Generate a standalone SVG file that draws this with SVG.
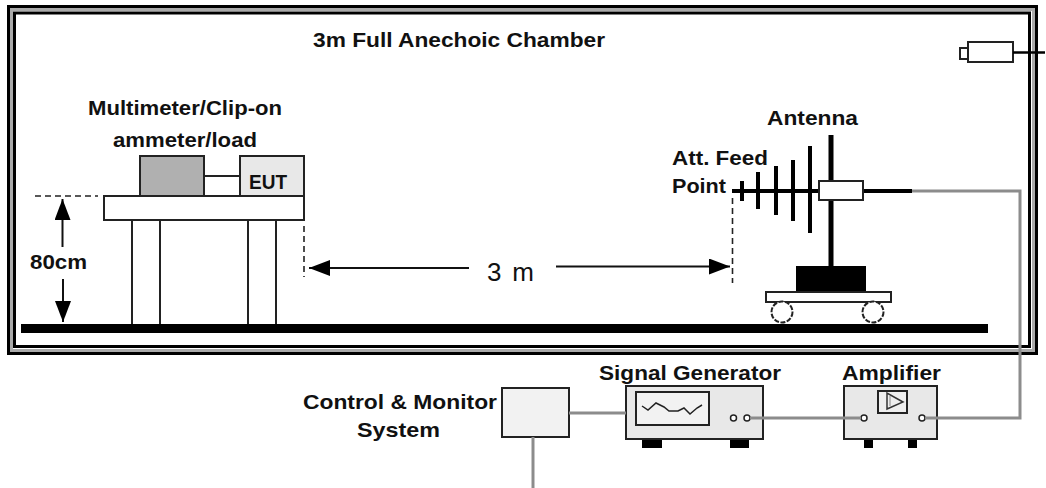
<svg xmlns="http://www.w3.org/2000/svg" width="1046" height="488" viewBox="0 0 1046 488">
<defs>
<marker id="ah" markerUnits="userSpaceOnUse" markerWidth="22" markerHeight="16" refX="21" refY="8" orient="auto"><path d="M0 0 L21 8 L0 16 Z" fill="#000"/></marker>
</defs>
<style>
text{font-family:"Liberation Sans",Arial,sans-serif;font-weight:bold;fill:#111;font-size:21px}
.big{font-weight:normal;font-size:26px}
.b{fill:none;stroke:#222;stroke-width:2}
.k{fill:none;stroke:#000;stroke-width:4}
.g{fill:none;stroke:#8c8c8c;stroke-width:3}
.d{fill:none;stroke:#222;stroke-width:1.6;stroke-dasharray:6 4}
.a{fill:none;stroke:#111;stroke-width:2}
.s{stroke:#222;stroke-width:2}
.p{fill:#fff;stroke:#222;stroke-width:1.5}
</style>
<rect width="1046" height="488" fill="#fff"/>
<g id="chamber">
<rect x="8.500" y="6.500" width="1028" height="347" fill="none" stroke="#000" stroke-width="3"/>
<rect x="11.500" y="9.500" width="1022" height="341" fill="none" stroke="#aaa" stroke-width="3"/>
<rect x="14.500" y="13" width="1015" height="333.500" fill="none" stroke="#000" stroke-width="3"/>
<text x="313" y="47" textLength="292" lengthAdjust="spacingAndGlyphs">3m Full Anechoic Chamber</text>
</g>
<g id="floor"><rect x="21" y="324" width="967" height="9" fill="#000"/></g>
<g id="table">
<path class="b" d="M132 220V324M160 220V324M248 220V324M276 220V324"/>
<rect x="104" y="196" width="200" height="24" fill="#fff" class="s"/>
</g>
<g id="multimeter">
<rect x="140" y="156" width="64" height="40" fill="#b0b0b0" class="s"/>
<path class="b" d="M204 176H240"/>
<text x="88" y="115" textLength="194" lengthAdjust="spacingAndGlyphs">Multimeter/Clip-on</text>
<text x="113" y="147" textLength="144" lengthAdjust="spacingAndGlyphs">ammeter/load</text>
</g>
<g id="eut">
<rect x="240" y="156" width="64" height="40" fill="#e8e8e8" class="s"/>
<text x="249" y="189" textLength="38" lengthAdjust="spacingAndGlyphs">EUT</text>
</g>
<g id="antenna">
<path d="M732 191H819M742 181V201M758 172V209M776 166V215M793 160V221M810 146V233" fill="none" stroke="#000" stroke-width="4"/>
<path d="M831 135V266" fill="none" stroke="#000" stroke-width="5"/>
<path d="M863 191H912" class="k"/>
<rect x="819" y="181" width="44" height="19" fill="#fff" class="s"/>
<text x="767" y="125" textLength="91" lengthAdjust="spacingAndGlyphs">Antenna</text>
<text x="672" y="165" textLength="96" lengthAdjust="spacingAndGlyphs">Att. Feed</text>
<text x="672" y="193" textLength="54" lengthAdjust="spacingAndGlyphs">Point</text>
</g>
<g id="cart">
<rect x="796" y="266" width="70" height="26" fill="#000"/>
<rect x="766" y="292" width="125" height="10" fill="#fff" class="s"/>
<circle cx="782" cy="312" r="10.500" fill="#fff" class="s" stroke-dasharray="5 1.500"/>
<circle cx="873" cy="312" r="10.500" fill="#fff" class="s" stroke-dasharray="5 1.500"/>
</g>
<g id="camera">
<rect x="960" y="48" width="8" height="11" fill="#fff" class="s"/>
<rect x="968" y="42" width="45" height="20" fill="#fff" class="s"/>
<path d="M1013 52.500H1045" stroke="#000" stroke-width="2.500" fill="none"/>
</g>
<g id="control">
<rect x="502" y="388" width="67" height="49" fill="#f2f2f2" class="s"/>
<text x="303" y="409" textLength="194" lengthAdjust="spacingAndGlyphs">Control &amp; Monitor</text>
<text x="357" y="437" textLength="83" lengthAdjust="spacingAndGlyphs">System</text>
</g>
<g id="signal-generator">
<rect x="642" y="439" width="20" height="9" fill="#000"/>
<rect x="730" y="439" width="19" height="9" fill="#000"/>
<rect x="626" y="386" width="137" height="53" fill="#e8e8e8" class="s"/>
<rect x="636" y="392" width="73" height="33" fill="#f2f2f2" class="s"/>
<path d="M642 406L648 410L656 403L664 407L669 411L678 411L684 408L690 414L697 408L702 405" fill="none" stroke="#222" stroke-width="1.500"/>
<circle cx="733.500" cy="418" r="3" class="p"/>
<circle cx="747" cy="418" r="3" class="p"/>
<text x="599" y="380" textLength="182" lengthAdjust="spacingAndGlyphs">Signal Generator</text>
</g>
<g id="amplifier">
<rect x="864" y="439" width="9" height="9" fill="#000"/>
<rect x="908" y="439" width="9" height="9" fill="#000"/>
<rect x="844" y="386" width="93" height="53" fill="#e8e8e8" class="s"/>
<rect x="878" y="391" width="29" height="22" fill="#eee" class="s"/>
<path d="M887 393V409L903 402Z" fill="none" stroke="#333" stroke-width="1.500"/>
<path d="M890 396V406" fill="none" stroke="#888" stroke-width="1"/>
<circle cx="864" cy="418" r="3" class="p"/>
<circle cx="922" cy="418" r="3" class="p"/>
<text x="842" y="380" textLength="99" lengthAdjust="spacingAndGlyphs">Amplifier</text>
</g>
<g id="connectors">
<path class="g" d="M912 191H1020V418H925"/>
<path class="g" d="M750 418H861"/>
<path class="g" d="M569 413H626"/>
<path class="g" d="M533 437V488"/>
<path class="d" d="M35 196H98"/>
<path class="d" d="M304 226V277"/>
<path class="d" d="M732.500 198V283"/>
<path class="a" d="M62.500 247V199" marker-end="url(#ah)"/>
<path class="a" d="M63 279V322" marker-end="url(#ah)"/>
<path class="a" d="M469 268H309" marker-end="url(#ah)"/>
<path class="a" d="M556 266.500H730" marker-end="url(#ah)"/>
<text x="30" y="269" textLength="57" lengthAdjust="spacingAndGlyphs">80cm</text>
<text x="487" y="281" class="big" textLength="47" lengthAdjust="spacing">3 m</text>
</g>
</svg>
